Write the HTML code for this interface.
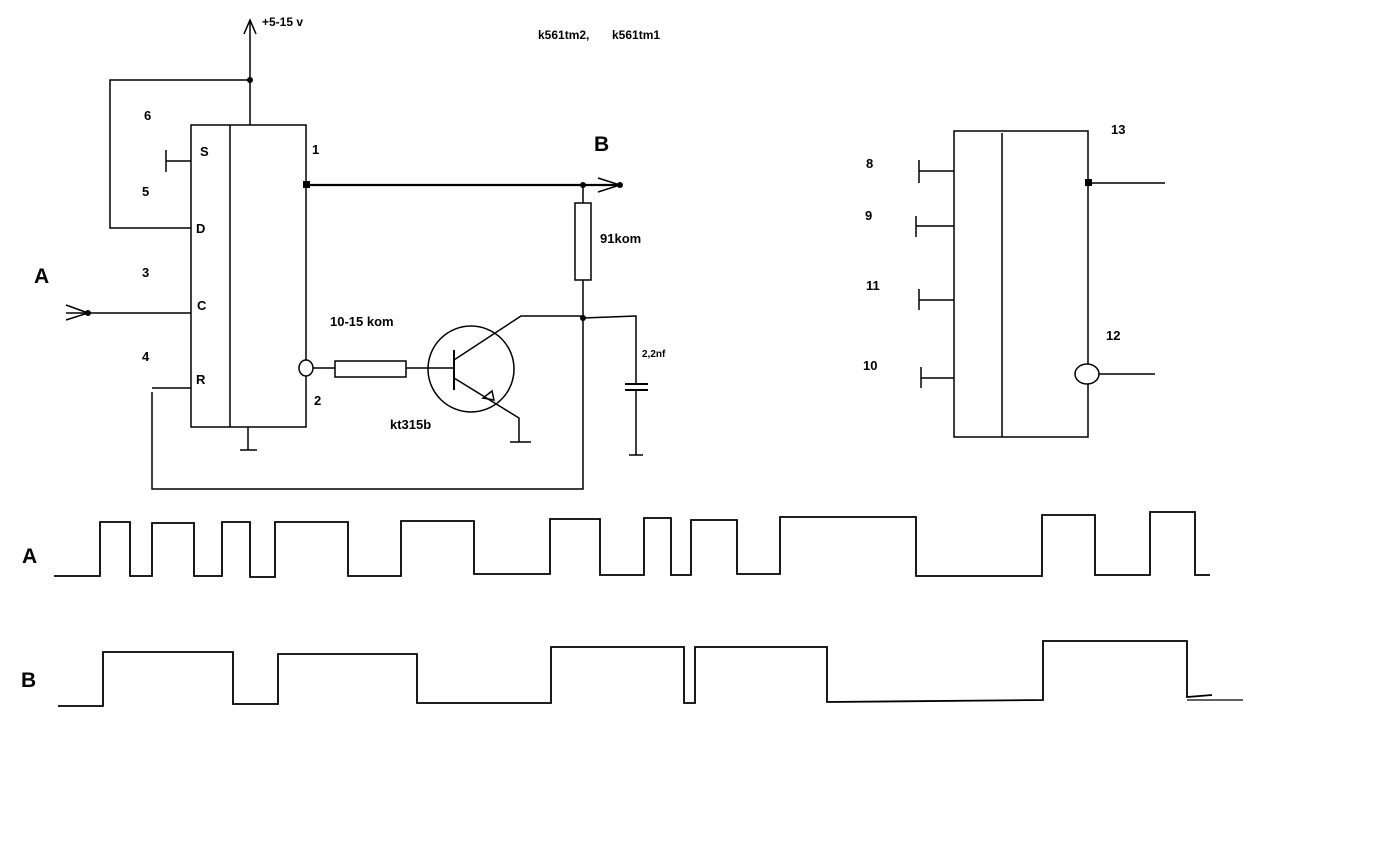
<!DOCTYPE html>
<html><head><style>
html,body{margin:0;padding:0;background:#fff;}
svg{display:block;}
text{font-family:"Liberation Sans",sans-serif;font-weight:bold;fill:#000;}
</style></head><body>
<svg width="1400" height="844" viewBox="0 0 1400 844" xmlns="http://www.w3.org/2000/svg">
<rect width="1400" height="844" fill="#fff"/>
<g stroke="#000" stroke-width="1.5" fill="none">
<rect x="191" y="125" width="115" height="302"/>
<line x1="230" y1="125" x2="230" y2="427"/>
<line x1="250" y1="125" x2="250" y2="22"/>
<polyline points="244,34 250,20 256,34"/>
<polyline points="250,80 110,80 110,228 191,228"/>
<line x1="166" y1="161" x2="191" y2="161"/>
<line x1="166" y1="150" x2="166" y2="172"/>
<line x1="88" y1="313" x2="191" y2="313"/>
<polyline points="66,305 88,313 66,320"/>
<line x1="66" y1="313" x2="88" y2="313"/>
<line x1="152" y1="388" x2="191" y2="388"/>
<polyline points="152,392 152,489 583,489 583,280"/>
<line x1="248" y1="427" x2="248" y2="450"/>
<line x1="240" y1="450" x2="257" y2="450"/>
<line x1="307" y1="185" x2="620" y2="185" stroke-width="2.2"/>
<polyline points="598,178 620,185 598,192"/>
<line x1="583" y1="185" x2="583" y2="203"/>
<rect x="575" y="203" width="16" height="77"/>
<polyline points="583,318 636,316 636,384"/>
<line x1="625" y1="384" x2="648" y2="384" stroke-width="2"/>
<line x1="625" y1="390" x2="648" y2="390" stroke-width="2"/>
<line x1="636" y1="390" x2="636" y2="455"/>
<line x1="629" y1="455" x2="643" y2="455"/>
<ellipse cx="306" cy="368" rx="7" ry="8" fill="#fff"/>
<line x1="313" y1="368" x2="335" y2="368"/>
<rect x="335" y="361" width="71" height="16"/>
<line x1="406" y1="368" x2="454" y2="368"/>
<ellipse cx="471" cy="369" rx="43" ry="43"/>
<line x1="454" y1="350" x2="454" y2="390" stroke-width="2"/>
<polyline points="454,360 521,316 583,316"/>
<polyline points="454,378 519,418 519,442"/>
<line x1="510" y1="442" x2="531" y2="442"/>
<polygon points="494,400 483,398 492,391"/>
<rect x="954" y="131" width="134" height="306"/>
<line x1="1002" y1="133" x2="1002" y2="437"/>
<line x1="919" y1="171" x2="954" y2="171"/><line x1="919" y1="160" x2="919" y2="183"/>
<line x1="916" y1="226" x2="954" y2="226"/><line x1="916" y1="216" x2="916" y2="237"/>
<line x1="919" y1="300" x2="954" y2="300"/><line x1="919" y1="289" x2="919" y2="310"/>
<line x1="921" y1="378" x2="954" y2="378"/><line x1="921" y1="367" x2="921" y2="388"/>
<line x1="1088" y1="183" x2="1165" y2="183"/>
<ellipse cx="1087" cy="374" rx="12" ry="10" fill="#fff"/>
<line x1="1099" y1="374" x2="1155" y2="374"/>
<polyline stroke-width="1.8" points="54,576 100,576 100,522 130,522 130,576 152,576 152,523 194,523 194,576 222,576 222,522 250,522 250,577 275,577 275,522 348,522 348,576 401,576 401,521 474,521 474,574 550,574 550,519 600,519 600,575 644,575 644,518 671,518 671,575 691,575 691,520 737,520 737,574 780,574 780,517 916,517 916,576 1042,576 1042,515 1095,515 1095,575 1150,575 1150,512 1195,512 1195,575 1210,575"/>
<polyline stroke-width="1.8" points="58,706 103,706 103,652 233,652 233,704 278,704 278,654 417,654 417,703 551,703 551,647 684,647 684,703 695,703 695,647 827,647 827,702 1043,700 1043,641 1187,641 1187,697 1212,695"/>
<line x1="1187" y1="700" x2="1243" y2="700" stroke-width="1.3"/>
</g>
<g fill="#000">
<circle cx="250" cy="80" r="3"/>
<circle cx="88" cy="313" r="3"/>
<rect x="303" y="181" width="7" height="7"/>
<circle cx="583" cy="185" r="3"/>
<circle cx="620" cy="185" r="3"/>
<circle cx="583" cy="318" r="3"/>
<rect x="1085" y="179" width="7" height="7"/>
</g>
<text x="262" y="26" font-size="12">+5-15 v</text>
<text x="538" y="39" font-size="12">k561tm2,</text>
<text x="612" y="39" font-size="12">k561tm1</text>
<text x="144" y="120" font-size="13">6</text>
<text x="200" y="156" font-size="13">S</text>
<text x="142" y="196" font-size="13">5</text>
<text x="196" y="233" font-size="13">D</text>
<text x="142" y="277" font-size="13">3</text>
<text x="197" y="310" font-size="13">C</text>
<text x="142" y="361" font-size="13">4</text>
<text x="196" y="384" font-size="13">R</text>
<text x="312" y="154" font-size="13">1</text>
<text x="314" y="405" font-size="13">2</text>
<text x="34" y="283" font-size="21">A</text>
<text x="594" y="151" font-size="21">B</text>
<text x="600" y="243" font-size="13">91kom</text>
<text x="330" y="326" font-size="13">10-15 kom</text>
<text x="390" y="429" font-size="13">kt315b</text>
<text x="642" y="357" font-size="10">2,2nf</text>
<text x="866" y="168" font-size="13">8</text>
<text x="865" y="220" font-size="13">9</text>
<text x="866" y="290" font-size="13">11</text>
<text x="863" y="370" font-size="13">10</text>
<text x="1111" y="134" font-size="13">13</text>
<text x="1106" y="340" font-size="13">12</text>
<text x="22" y="563" font-size="21">A</text>
<text x="21" y="687" font-size="21">B</text>
</svg>
</body></html>
